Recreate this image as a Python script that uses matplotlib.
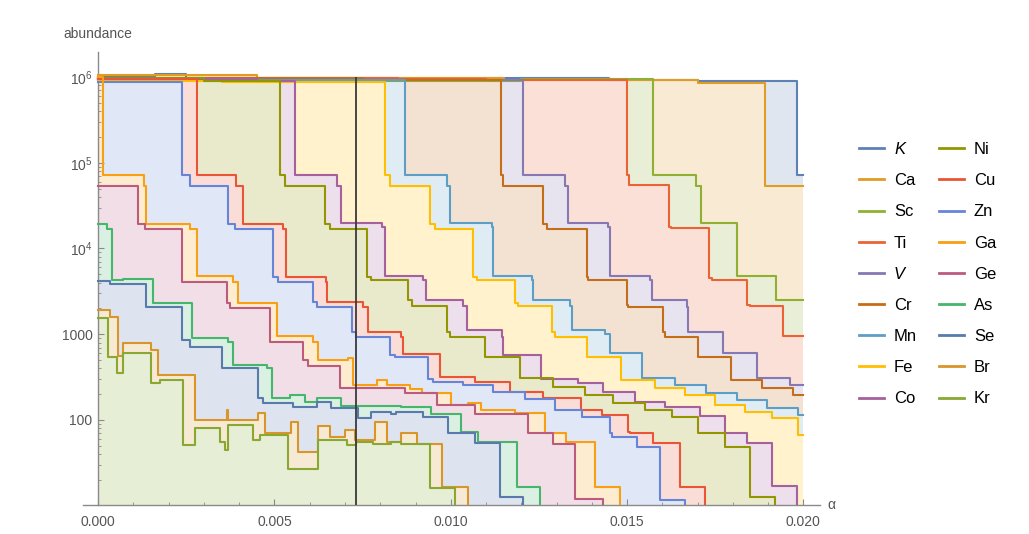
import numpy as np
import matplotlib.pyplot as plt
from matplotlib.colors import to_rgb

plt.rcParams['font.family'] = ['Liberation Sans', 'DejaVu Sans']
plt.rcParams['mathtext.default'] = 'regular'

# step series: value holds from each x until the next x
K_x = [0, 0.0016, 0.0025, 0.0145, 0.0170, 0.01981]
K_y = [1.0e6, 1.07e6, 9.6e5, 9.2e5, 8.9e5, 7.2e4]

Ca_x = [0, 0.0045, 0.0115, 0.0170, 0.01891]
Ca_y = [1.05e6, 9.6e5, 9.3e5, 8.6e5, 5.4e4]

Sc_x = [0, 0.0028, 0.0120, 0.01574, 0.01695, 0.0171, 0.01811, 0.01922]
Sc_y = [9.3e5, 9.0e5, 9.4e5, 7.2e4, 5.4e4, 1.97e4, 4.77e3, 2.51e3]

Ti_x = [0, 0.0085, 0.0110, 0.01499, 0.01506, 0.01619, 0.01625, 0.01733, 0.01742,
        0.01839, 0.01848, 0.01943]
Ti_y = [9.7e5, 9.5e5, 9.2e5, 7.2e4, 5.5e4, 1.79e4, 1.72e4, 4.49e3, 4.3e3,
        2.19e3, 2.12e3, 955]

V_x = [0, 0.0060, 0.01205, 0.01324, 0.01333, 0.01446, 0.01451, 0.01565, 0.0157,
       0.01669, 0.01673, 0.01773, 0.01867, 0.01962]
V_y = [9.5e5, 9.2e5, 7.2e4, 5.4e4, 1.97e4, 1.79e4, 4.77e3, 4.3e3, 2.51e3,
       2.095e3, 1.07e3, 598, 306, 256]

Cr_x = [0, 0.0075, 0.01141, 0.01149, 0.01262, 0.01272, 0.01385, 0.0139, 0.01499,
        0.01503, 0.01602, 0.01607, 0.01702, 0.01796, 0.01882, 0.01971]
Cr_y = [9.8e5, 9.3e5, 7.2e4, 5.4e4, 1.93e4, 1.69e4, 4.67e3, 4.3e3, 2.2e3,
        2.095e3, 1.07e3, 940, 547, 293, 234, 196]

Mn_x = [0, 0.0072, 0.0087, 0.00988, 0.00997, 0.01116, 0.0112, 0.01229, 0.01234,
        0.01338, 0.01343, 0.01437, 0.01452, 0.01541, 0.01636, 0.01725, 0.01811,
        0.01896, 0.01985]
Mn_y = [9.3e5, 9.1e5, 7.2e4, 5.4e4, 1.97e4, 1.79e4, 4.77e3, 4.3e3, 2.51e3,
        2.16e3, 1.12e3, 1.0e3, 598, 306, 256, 205, 171, 137, 114]

Fe_x = [0, 0.0035, 0.00813, 0.00827, 0.00941, 0.00955, 0.01064, 0.01073, 0.01182,
        0.01191, 0.01286, 0.01295, 0.01385, 0.01484, 0.01579, 0.01664, 0.01749,
        0.01834, 0.0191, 0.01985]
Fe_y = [9.0e5, 8.8e5, 7.2e4, 5.4e4, 1.93e4, 1.69e4, 4.67e3, 4.3e3, 2.3e3,
        2.16e3, 1.07e3, 940, 547, 293, 234, 196, 150, 125, 105, 67]

Co_x = [0, 0.0045, 0.00558, 0.00676, 0.0069, 0.00804, 0.00813, 0.00922, 0.00931,
        0.01035, 0.01045, 0.01144, 0.01149, 0.01255, 0.0136, 0.01432, 0.01522,
        0.01607, 0.01706, 0.01777, 0.01839, 0.0191, 0.01981]
Co_y = [9.5e5, 9.0e5, 7.2e4, 5.4e4, 1.97e4, 1.79e4, 4.77e3, 4.3e3, 2.51e3,
        2.16e3, 1.12e3, 940, 573, 300, 268, 214, 163, 141, 111, 70, 53.5, 17, 1]

Ni_x = [0, 0.0030, 0.00515, 0.0053, 0.00643, 0.00657, 0.00761, 0.00775, 0.00879,
        0.00889, 0.00988, 0.00997, 0.01097, 0.01196, 0.0129, 0.0138, 0.0146,
        0.0155, 0.01626, 0.01702, 0.01777, 0.01848, 0.01919]
Ni_y = [9.6e5, 9.0e5, 7.2e4, 5.4e4, 1.93e4, 1.69e4, 4.67e3, 4.3e3, 2.51e3,
        2.16e3, 1.07e3, 940, 547, 306, 245, 196, 157, 131, 109, 70, 49, 12.7, 1]

Cu_x = [0, 0.00279, 0.00392, 0.00411, 0.00525, 0.00534, 0.00645, 0.0065, 0.00752,
        0.00766, 0.0086, 0.00865, 0.00969, 0.01068, 0.01168, 0.01262, 0.0137,
        0.01428, 0.01503, 0.01508, 0.01574, 0.0165, 0.01721]
Cu_y = [9.4e5, 7.2e4, 5.4e4, 1.93e4, 1.69e4, 4.7e3, 4.07e3, 2.4e3, 2.095e3,
        1.07e3, 940, 589, 320, 280, 214, 180, 131, 114, 73, 70, 53.5, 16.7, 1]

Zn_x = [0, 0.00237, 0.0026, 0.00369, 0.00388, 0.00496, 0.0051, 0.0061, 0.0062,
        0.00719, 0.00731, 0.00827, 0.00841, 0.00936, 0.0095, 0.01035, 0.0112,
        0.0121, 0.01295, 0.01371, 0.01451, 0.01456, 0.01527, 0.01593, 0.01664]
Zn_y = [8.7e5, 7.2e4, 5.4e4, 1.93e4, 1.69e4, 4.67e3, 4.07e3, 2.4e3, 2.095e3,
        1.07e3, 920, 573, 538, 298, 280, 256, 214, 176, 131, 109, 70, 64, 49,
        11.7, 1]

Ga_x = [0, 0.00014, 0.0013, 0.00137, 0.0026, 0.00279, 0.00383, 0.00397, 0.00506,
        0.0061, 0.00624, 0.00709, 0.00723, 0.0079, 0.00818, 0.00885, 0.00918,
        0.0100, 0.0105, 0.01087, 0.01182, 0.01267, 0.01328, 0.01409, 0.0148]
Ga_y = [1.0e6, 7.2e4, 5.4e4, 1.93e4, 1.69e4, 4.77e3, 4.07e3, 2.33e3, 955,
        818, 501, 525, 256, 293, 256, 230, 205, 150, 157, 131, 122, 70, 56,
        16.7, 1]

Ge_x = [0, 0.00113, 0.00132, 0.00239, 0.00364, 0.00373, 0.00487, 0.00581, 0.00596,
        0.00685, 0.0087, 0.0096, 0.0107, 0.0122, 0.0129, 0.01352, 0.01432]
Ge_y = [5.4e4, 1.93e4, 1.69e4, 4.07e3, 2.3e3, 2.01e3, 818, 501, 426,
        234, 205, 150, 116, 70, 52, 12, 1]

As_x = [0, 0.00024, 0.00038, 0.00071, 0.00156, 0.00265, 0.00369, 0.00383, 0.00478,
        0.00492, 0.00544, 0.00586, 0.0062, 0.0069, 0.0086, 0.00945, 0.0103,
        0.01077, 0.01187, 0.01253]
As_y = [1.93e4, 1.69e4, 4.3e3, 4.4e3, 2.3e3, 896, 818, 438, 401,
        179, 196, 163, 179, 146, 140, 118, 73, 56, 16.7, 1]

Se_x = [0, 0.00033, 0.00135, 0.00239, 0.0026, 0.0035, 0.00454, 0.00468, 0.00553,
        0.0062, 0.0066, 0.00737, 0.00775, 0.00831, 0.00845, 0.00922, 0.00993,
        0.01068, 0.01139, 0.01205]
Se_y = [4.22e3, 3.85e3, 2.095e3, 857, 705, 401, 179, 159, 143,
        160, 137, 105, 125, 116, 125, 109, 70, 53.5, 12.7, 1]

Br_x = [0, 0.00033, 0.00057, 0.00071, 0.00151, 0.0017, 0.00274, 0.00364, 0.00368,
        0.00454, 0.00473, 0.00548, 0.00567, 0.00624, 0.00657, 0.0070, 0.00728,
        0.00785, 0.00818, 0.0086, 0.00903, 0.00974, 0.01049]
Br_y = [1.92e3, 1.6e3, 550, 780, 655, 335, 100, 131, 100,
        120, 71, 96, 42, 84, 64, 76, 58, 96, 56, 70, 53, 16.7, 1]

Kr_x = [0, 0.00028, 0.00052, 0.00071, 0.00151, 0.00175, 0.00241, 0.00274, 0.00345,
        0.00359, 0.00369, 0.0044, 0.00459, 0.00539, 0.00624, 0.00705, 0.0073,
        0.0078, 0.0083, 0.0086, 0.00941, 0.01012]
Kr_y = [1.535e3, 547, 351, 609, 268, 293, 51, 80, 56,
        45, 87, 58, 66, 27, 58, 51, 56, 52, 55, 52, 16, 1]

names = ["K", "Ca", "Sc", "Ti", "V", "Cr", "Mn", "Fe", "Co",
         "Ni", "Cu", "Zn", "Ga", "Ge", "As", "Se", "Br", "Kr"]
all_x = [K_x, Ca_x, Sc_x, Ti_x, V_x, Cr_x, Mn_x, Fe_x, Co_x,
         Ni_x, Cu_x, Zn_x, Ga_x, Ge_x, As_x, Se_x, Br_x, Kr_x]
all_y = [K_y, Ca_y, Sc_y, Ti_y, V_y, Cr_y, Mn_y, Fe_y, Co_y,
         Ni_y, Cu_y, Zn_y, Ga_y, Ge_y, As_y, Se_y, Br_y, Kr_y]
colors = ["#5E81B5", "#E19C24", "#8FB032", "#EB6235", "#8778B3", "#C56E1A",
          "#5D9EC7", "#FFBF00", "#A5609D", "#929600", "#E95536", "#6685D9",
          "#F89F13", "#BC5B80", "#47B66D", "#587AAD", "#D8952A", "#88A832"]

x_end = 0.020
alpha_mark = 0.00731


def pastel(c, a=0.2):
    r, g, b = to_rgb(c)
    return (1 - a + a * r, 1 - a + a * g, 1 - a + a * b)


fig = plt.figure(figsize=(10.29, 5.34), dpi=100)
ax = fig.add_axes([83 / 1029, 1 - 505 / 534, (820 - 83) / 1029, (505 - 51.7) / 534])
ax.set_yscale('log')
ax.set_xlim(-0.00043, 0.02047)
ax.set_ylim(10.2, 1.97e6)

# fills first (upper series first, so lower bands show the colour of the curve above)
for xs, ys, c in zip(all_x, all_y, colors):
    x = np.append(xs, x_end)
    y = np.append(ys, ys[-1])
    ax.fill_between(x, y, 1.0, step='post', color=pastel(c), lw=0, zorder=1)

lines = []
for name, xs, ys, c in zip(names, all_x, all_y, colors):
    x = np.append(xs, x_end)
    y = np.append(ys, ys[-1])
    ln, = ax.step(x, y, where='post', color=c, lw=1.5, zorder=3, label=name)
    lines.append(ln)

ax.vlines(alpha_mark, 10.2, 1.0e6, color='#3a3a3a', lw=1.3, zorder=5)

# Mathematica-like axes
for s in ['top', 'right']:
    ax.spines[s].set_visible(False)
ax.spines['left'].set_position(('data', 0))
for s in ['left', 'bottom']:
    ax.spines[s].set_color('#8a8a8a')
    ax.spines[s].set_linewidth(1.0)

ax.set_xticks([0, 0.005, 0.010, 0.015, 0.020])
ax.set_xticklabels(['0.000', '0.005', '0.010', '0.015', '0.020'])
ax.set_xticks(np.arange(0, 0.0201, 0.001), minor=True)
ax.set_yticks([1e2, 1e3, 1e4, 1e5, 1e6])
ax.set_yticklabels(['100', '1000', '$10^4$', '$10^5$', '$10^6$'])
ax.set_yticks([m * 10 ** e for e in range(1, 6) for m in range(2, 10)], minor=True)
ax.yaxis.set_minor_formatter(plt.NullFormatter())
ax.tick_params(which='both', direction='in', color='#8a8a8a', labelcolor='#555555',
               labelsize=10)
ax.tick_params(axis='x', which='major', length=4, pad=7)
ax.tick_params(axis='x', which='minor', length=2.5)
ax.tick_params(axis='y', which='major', length=4, pad=4)
ax.tick_params(axis='y', which='minor', length=2.5)

fig.text(97.5 / 1029, 1 - 34.3 / 534, 'abundance', ha='center', va='center',
         fontsize=10, color='#555555')
fig.text(831 / 1029, 1 - 505 / 534, 'α', ha='center', va='center',
         fontsize=10, color='#555555')

leg = ax.legend(handles=lines, labels=names, ncol=2, loc='upper left',
                bbox_to_anchor=(859 / 1029, 1 - 142 / 534),
                bbox_transform=fig.transFigure, frameon=False, fontsize=12,
                handlelength=1.5, handletextpad=0.6, columnspacing=1.3,
                labelspacing=0.97, borderaxespad=0, borderpad=0)
for t in leg.get_texts():
    if t.get_text() in ('K', 'V'):
        t.set_fontstyle('italic')
for h in leg.legend_handles:
    h.set_linewidth(2)

fig.savefig('out.png', dpi=100)
